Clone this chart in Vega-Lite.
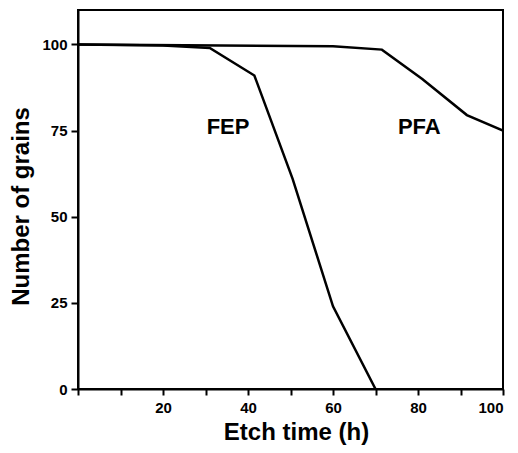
{
  "$schema": "https://vega.github.io/schema/vega-lite/v6.json",
  "autosize": "none",
  "width": 425,
  "height": 379,
  "padding": {"left": 78, "top": 10, "right": 15, "bottom": 64},
  "background": "white",
  "config": {
    "view": {"stroke": "black", "strokeWidth": 2},
    "font": "Liberation Sans"
  },
  "datasets": {
    "curves": [
      {"material": "FEP", "t": 0, "n": 100},
      {"material": "FEP", "t": 20, "n": 99.7},
      {"material": "FEP", "t": 31, "n": 99},
      {"material": "FEP", "t": 41.5, "n": 91},
      {"material": "FEP", "t": 50.5, "n": 61},
      {"material": "FEP", "t": 60, "n": 24},
      {"material": "FEP", "t": 70, "n": 0},
      {"material": "PFA", "t": 0, "n": 100},
      {"material": "PFA", "t": 60, "n": 99.5},
      {"material": "PFA", "t": 71.5, "n": 98.5},
      {"material": "PFA", "t": 81, "n": 90},
      {"material": "PFA", "t": 91.5, "n": 79.5},
      {"material": "PFA", "t": 100, "n": 75}
    ],
    "labels": [
      {"label": "FEP", "t": 35.3, "n": 76},
      {"label": "PFA", "t": 80.3, "n": 76}
    ]
  },
  "layer": [
    {
      "data": {"name": "curves"},
      "mark": {"type": "line", "color": "black", "strokeWidth": 2.5, "clip": true},
      "encoding": {
        "x": {
          "field": "t", "type": "quantitative",
          "scale": {"domain": [0, 100], "nice": false, "zero": false},
          "axis": {
            "title": "Etch time (h)",
            "values": [0, 10, 20, 30, 40, 50, 60, 70, 80, 90, 100],
            "labelExpr": "datum.value % 20 == 0 && datum.value > 0 ? datum.label : ''",
            "grid": false, "domain": true, "domainColor": "black", "domainWidth": 2,
            "tickColor": "black", "tickWidth": 2, "tickSize": 6,
            "labelFont": "Liberation Sans", "labelFontWeight": "bold", "labelFontSize": 15, "labelColor": "black", "labelPadding": 5,
            "titleFont": "Liberation Sans", "titleFontWeight": "bold", "titleFontSize": 24, "titleColor": "black", "titlePadding": 5,
            "titleX": 218
          }
        },
        "y": {
          "field": "n", "type": "quantitative",
          "scale": {"domain": [0, 110], "nice": false},
          "axis": {
            "title": "Number of grains",
            "values": [0, 25, 50, 75, 100],
            "grid": false, "domain": true, "domainColor": "black", "domainWidth": 2,
            "tickColor": "black", "tickWidth": 2, "tickSize": 7,
            "labelFont": "Liberation Sans", "labelFontWeight": "bold", "labelFontSize": 15, "labelColor": "black", "labelPadding": 4,
            "titleFont": "Liberation Sans", "titleFontWeight": "bold", "titleFontSize": 24, "titleColor": "black", "titlePadding": 8,
            "titleY": 196
          }
        },
        "detail": {"field": "material"}
      }
    },
    {
      "data": {"name": "labels"},
      "mark": {"type": "text", "font": "Liberation Sans", "fontWeight": "bold", "fontSize": 22, "color": "black"},
      "encoding": {
        "x": {"field": "t", "type": "quantitative"},
        "y": {"field": "n", "type": "quantitative"},
        "text": {"field": "label"}
      }
    }
  ]
}
